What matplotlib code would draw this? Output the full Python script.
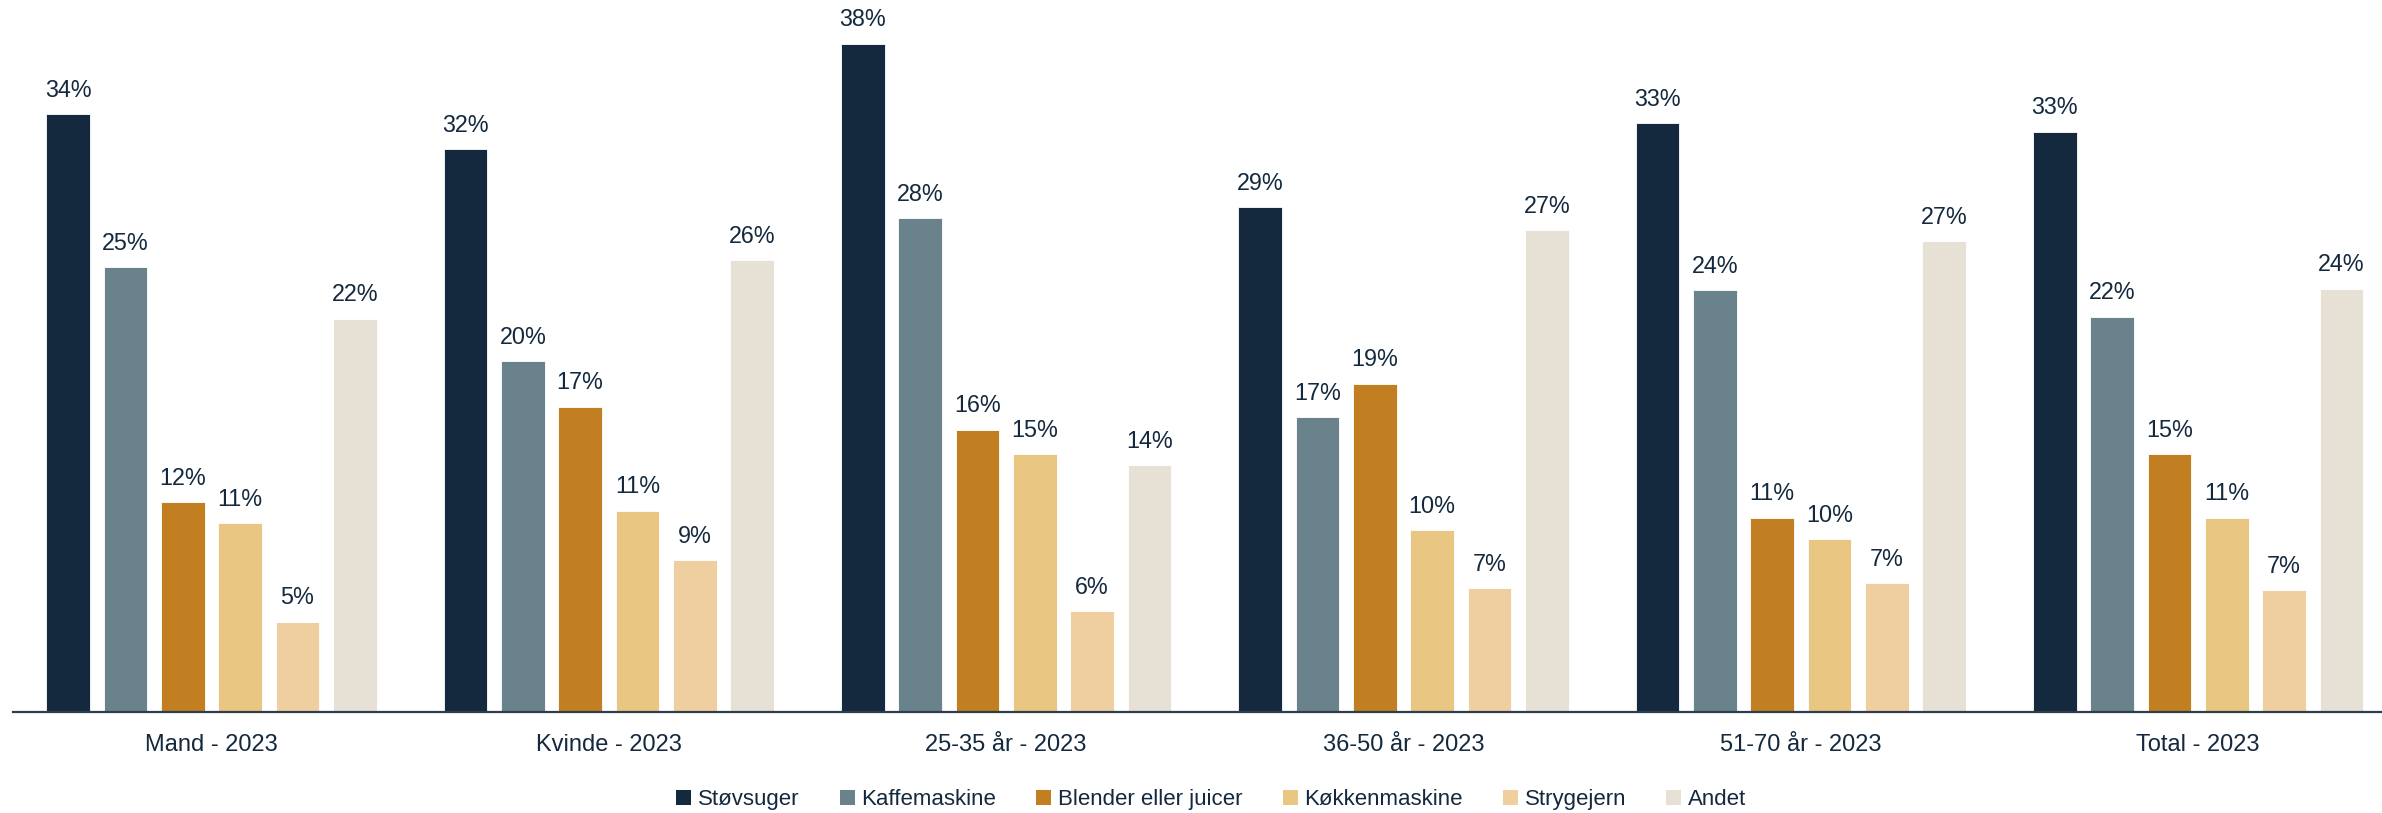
import numpy as np
import matplotlib
matplotlib.use('Agg')
import matplotlib.pyplot as plt

plt.rcParams['font.family'] = ['Liberation Sans', 'DejaVu Sans']

# Groups on the x axis and the product series
groups = ['Mand - 2023', 'Kvinde - 2023', '25-35 år - 2023', '36-50 år - 2023',
          '51-70 år - 2023', 'Total - 2023']
series = ['Støvsuger', 'Kaffemaskine', 'Blender eller juicer', 'Køkkenmaskine',
          'Strygejern', 'Andet']

# Share (%) per series, one value per group
stovsuger = [33.9, 31.9, 37.9, 28.6, 33.4, 32.9]
kaffemaskine = [25.2, 19.9, 28.0, 16.7, 23.9, 22.4]
blender = [11.9, 17.3, 16.0, 18.6, 11.0, 14.6]
kokkenmaskine = [10.7, 11.4, 14.6, 10.3, 9.8, 11.0]
strygejern = [5.1, 8.6, 5.7, 7.0, 7.3, 6.9]
andet = [22.3, 25.6, 14.0, 27.3, 26.7, 24.0]

colors = ['#14293D', '#6A828B', '#C17F22', '#E9C682', '#EFCFA0', '#E7E0D4']
text_color = '#14293D'

values = [stovsuger, kaffemaskine, blender, kokkenmaskine, strygejern, andet]

fig = plt.figure(figsize=(23.82, 8.13), dpi=100)
ax = fig.add_axes([0.0054, 0.1246, 1.0008, 0.8674])

x = np.arange(len(groups))
pitch = 0.1443
width = 0.110
offsets = (np.arange(len(series)) - (len(series) - 1) / 2) * pitch

for vals, name, col, off in zip(values, series, colors, offsets):
    bars = ax.bar(x + off, vals, width=width, color=col, label=name,
                  edgecolor='white', linewidth=0.6)
    for b, v in zip(bars, vals):
        ax.annotate(f'{v:.0f}%', (b.get_x() + b.get_width() / 2, v),
                    xytext=(0, 12.5), textcoords='offset points',
                    ha='center', va='baseline', fontsize=16.8, color=text_color)

ax.set_xlim(-0.5, len(groups) - 0.5)
ax.set_ylim(0, 40)
ax.set_xticks(x)
ax.set_xticklabels(groups, fontsize=17, color=text_color)
ax.tick_params(axis='x', length=0, pad=16)
ax.set_yticks([])
for side in ['top', 'right', 'left']:
    ax.spines[side].set_visible(False)
ax.spines['bottom'].set_color('#2E3E4E')
ax.spines['bottom'].set_linewidth(1.6)

leg = fig.legend(loc='center', bbox_to_anchor=(0.5085, 0.0165), ncol=6,
                 frameon=False, fontsize=16, handlelength=0.68, handleheight=0.68,
                 handletextpad=0.3, columnspacing=1.8)
for t in leg.get_texts():
    t.set_color(text_color)
for h in leg.legend_handles:
    h.set_linewidth(0)

fig.savefig('out.png', dpi=100)
